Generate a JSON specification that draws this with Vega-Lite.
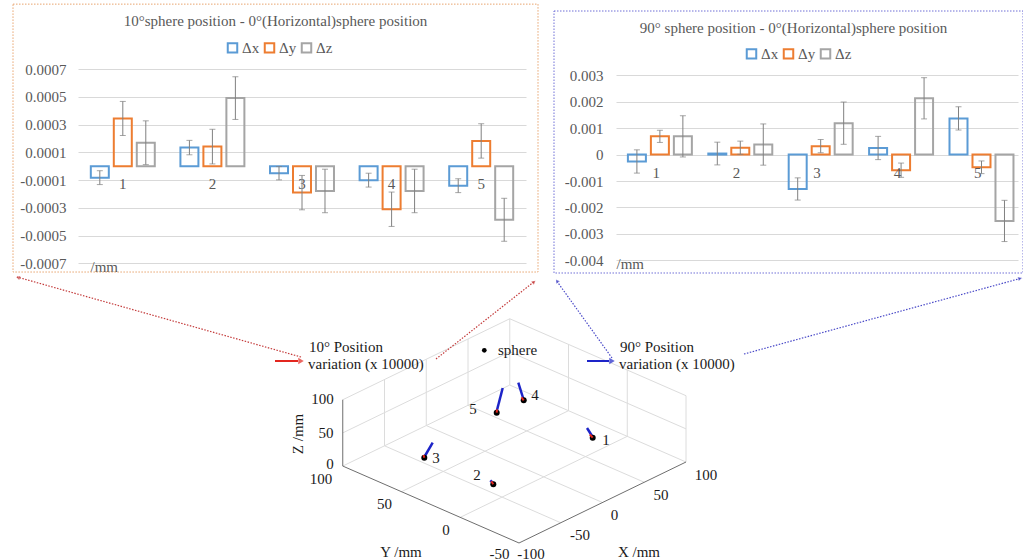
{
 "$schema": "https://vega.github.io/schema/vega-lite/v6.json",
 "padding": {"left": 12, "top": 3, "right": 0, "bottom": 0},
 "background": "white",
 "spacing": 0,
 "config": {"view": {"stroke": null}, "font": "Liberation Serif"},
 "datasets": {
  "d10": [
   {"g":"1","s":"Δx","v":-0.000082,"e":0.00005},
   {"g":"1","s":"Δy","v":0.000345,"e":0.000123},
   {"g":"1","s":"Δz","v":0.00017,"e":0.000158},
   {"g":"2","s":"Δx","v":0.000135,"e":0.000052},
   {"g":"2","s":"Δy","v":0.000142,"e":0.000125},
   {"g":"2","s":"Δz","v":0.000492,"e":0.000154},
   {"g":"3","s":"Δx","v":-0.00005,"e":0.000048},
   {"g":"3","s":"Δy","v":-0.00019,"e":0.000124},
   {"g":"3","s":"Δz","v":-0.000178,"e":0.000157},
   {"g":"4","s":"Δx","v":-0.0001,"e":0.00005},
   {"g":"4","s":"Δy","v":-0.00031,"e":0.000124},
   {"g":"4","s":"Δz","v":-0.000178,"e":0.000157},
   {"g":"5","s":"Δx","v":-0.00014,"e":0.00005},
   {"g":"5","s":"Δy","v":0.000183,"e":0.000124},
   {"g":"5","s":"Δz","v":-0.000386,"e":0.000155}
  ],
  "d90": [
   {"g":"1","s":"Δx","v":-0.00026,"e":0.00044},
   {"g":"1","s":"Δy","v":0.00069,"e":0.00023},
   {"g":"1","s":"Δz","v":0.00069,"e":0.00078},
   {"g":"2","s":"Δx","v":0.00004,"e":0.00043},
   {"g":"2","s":"Δy","v":0.00026,"e":0.00025},
   {"g":"2","s":"Δz","v":0.00038,"e":0.00078},
   {"g":"3","s":"Δx","v":-0.0013,"e":0.00042},
   {"g":"3","s":"Δy","v":0.00032,"e":0.00025},
   {"g":"3","s":"Δz","v":0.00119,"e":0.0008},
   {"g":"4","s":"Δx","v":0.00025,"e":0.00044},
   {"g":"4","s":"Δy","v":-0.00059,"e":0.00027},
   {"g":"4","s":"Δz","v":0.00213,"e":0.00078},
   {"g":"5","s":"Δx","v":0.00137,"e":0.00044},
   {"g":"5","s":"Δy","v":-0.00048,"e":0.00024},
   {"g":"5","s":"Δz","v":-0.00251,"e":0.00078}
  ],
  "cats": [{"g":"1"},{"g":"2"},{"g":"3"},{"g":"4"},{"g":"5"}]
 },
 "vconcat": [
  {
   "spacing": 14,
   "resolve": {"scale": {"color": "independent"}, "legend": {"color": "independent"}},
   "hconcat": [
    {
     "width": 525, "height": 269,
     "title": {"text": "10°sphere position - 0°(Horizontal)sphere position", "font": "Liberation Serif", "fontSize": 15, "fontWeight": "normal", "color": "#595959", "anchor": "middle", "frame": "group", "offset": -32, "baseline": "middle"},
     "layer": [
      {"data": {"values": [{}]}, "mark": {"type": "rect", "filled": false, "stroke": "#e8a46e", "strokeWidth": 1, "strokeDash": [1.5, 1.5]},
       "encoding": {"y": {"datum": 0.00117, "type": "quantitative", "title": "/mm"}, "y2": {"datum": -0.000763}}},
      {"data": {"name": "d10"}, "mark": {"type": "bar", "filled": false, "strokeWidth": 2},
       "encoding": {
        "x": {"field": "g", "type": "nominal", "scale": {"range": [65, 513], "paddingInner": 0.286, "paddingOuter": 0.143}, "axis": null},
        "xOffset": {"field": "s", "type": "nominal", "scale": {"paddingInner": 0.217, "paddingOuter": 0}},
        "y": {"field": "v", "type": "quantitative", "title": "/mm", "scale": {"domain": [-0.00077, 0.001171], "nice": false, "zero": false},
         "axis": {"values": [-0.0007, -0.0005, -0.0003, -0.0001, 0.0001, 0.0003, 0.0005, 0.0007], "tickCount": 20, "labelOverlap": false, "labelExpr": "replace(format(datum.value, '.4f'), '−', '-')", "offset": -53, "domain": false, "ticks": false, "tickSize": 0, "labelPadding": 0, "labelFont": "Liberation Serif", "labelFontSize": 15, "labelColor": "#595959", "grid": true, "gridColor": "#d9d9d9", "gridWidth": 1, "title": "/mm", "titleAngle": 0, "titleX": 24, "titleY": 262, "titleAlign": "left", "titleBaseline": "middle", "titleFont": "Liberation Serif", "titleFontSize": 15, "titleFontWeight": "normal", "titleColor": "#595959"}},
        "color": {"field": "s", "type": "nominal", "scale": {"domain": ["Δx", "Δy", "Δz"], "range": ["#5B9BD5", "#ED7D31", "#A5A5A5"]},
         "legend": {"orient": "none", "legendX": 212, "legendY": 36, "direction": "horizontal", "title": null, "symbolType": "square", "symbolSize": 90, "symbolStrokeWidth": 2, "labelFont": "Liberation Serif", "labelFontSize": 15, "labelColor": "#595959", "columnPadding": 0, "labelOffset": 2, "padding": 0}}
       }},
      {"data": {"name": "cats"}, "mark": {"type": "text", "dy": 18, "fontSize": 15, "color": "#595959", "font": "Liberation Serif"},
       "encoding": {"x": {"field": "g", "type": "nominal"}, "y": {"datum": 0, "type": "quantitative", "title": "/mm"}, "text": {"field": "g"}}},
      {"data": {"name": "d10"}, "mark": {"type": "errorbar", "ticks": {"size": 6, "thickness": 1, "color": "#808080"}, "rule": {"color": "#808080", "strokeWidth": 1}},
       "encoding": {"x": {"field": "g", "type": "nominal"}, "xOffset": {"field": "s", "type": "nominal"}, "y": {"field": "v", "type": "quantitative", "title": "/mm"}, "yError": {"field": "e"}}}
     ]
    },
    {
     "width": 469, "height": 269,
     "title": {"text": "90° sphere position - 0°(Horizontal)sphere position", "font": "Liberation Serif", "fontSize": 15, "fontWeight": "normal", "color": "#595959", "anchor": "middle", "frame": "group", "offset": -39, "baseline": "middle", "dx": 5},
     "layer": [
      {"data": {"values": [{}]}, "mark": {"type": "rect", "filled": false, "stroke": "#6f6fd6", "strokeWidth": 1, "strokeDash": [1.5, 1.5]},
       "encoding": {"y": {"datum": 0.005433, "type": "quantitative", "title": "/mm"}, "y2": {"datum": -0.00448}}},
      {"data": {"name": "d90"}, "mark": {"type": "bar", "filled": false, "strokeWidth": 2},
       "encoding": {
        "x": {"field": "g", "type": "nominal", "scale": {"range": [62, 464], "paddingInner": 0.296, "paddingOuter": 0.148}, "axis": null},
        "xOffset": {"field": "s", "type": "nominal", "scale": {"paddingInner": 0.21, "paddingOuter": 0}},
        "y": {"field": "v", "type": "quantitative", "title": "/mm", "scale": {"domain": [-0.00448, 0.005698], "nice": false, "zero": false},
         "axis": {"values": [-0.004, -0.003, -0.002, -0.001, 0, 0.001, 0.002, 0.003], "tickCount": 20, "labelOverlap": false, "labelExpr": "datum.value == 0 ? '0' : replace(format(datum.value, '.3f'), '−', '-')", "offset": -49, "domain": false, "ticks": false, "tickSize": 0, "labelPadding": 0, "labelFont": "Liberation Serif", "labelFontSize": 15, "labelColor": "#595959", "grid": true, "gridColor": "#d9d9d9", "gridWidth": 1, "title": "/mm", "titleAngle": 0, "titleX": 13, "titleY": 259, "titleAlign": "left", "titleBaseline": "middle", "titleFont": "Liberation Serif", "titleFontSize": 15, "titleFontWeight": "normal", "titleColor": "#595959"}},
        "color": {"field": "s", "type": "nominal", "scale": {"domain": ["Δx", "Δy", "Δz"], "range": ["#5B9BD5", "#ED7D31", "#A5A5A5"]},
         "legend": {"orient": "none", "legendX": 190, "legendY": 42, "direction": "horizontal", "title": null, "symbolType": "square", "symbolSize": 90, "symbolStrokeWidth": 2, "labelFont": "Liberation Serif", "labelFontSize": 15, "labelColor": "#595959", "columnPadding": 0, "labelOffset": 2, "padding": 0}}
       }},
      {"data": {"name": "cats"}, "mark": {"type": "text", "dy": 18, "fontSize": 15, "color": "#595959", "font": "Liberation Serif"},
       "encoding": {"x": {"field": "g", "type": "nominal"}, "y": {"datum": 0, "type": "quantitative", "title": "/mm"}, "text": {"field": "g"}}},
      {"data": {"name": "d90"}, "mark": {"type": "errorbar", "ticks": {"size": 6, "thickness": 1, "color": "#808080"}, "rule": {"color": "#808080", "strokeWidth": 1}},
       "encoding": {"x": {"field": "g", "type": "nominal"}, "xOffset": {"field": "s", "type": "nominal"}, "y": {"field": "v", "type": "quantitative", "title": "/mm"}, "yError": {"field": "e"}}}
     ]
    }
   ]
  },
  {
   "width": 1008, "height": 288,
   "encoding": {
    "x": {"field": "u", "type": "quantitative", "scale": {"domain": [12, 1020], "nice": false, "zero": false}, "axis": null},
    "y": {"field": "v", "type": "quantitative", "scale": {"domain": [272, 560], "reverse": true, "nice": false, "zero": false}, "axis": null}
   },
   "layer": [
    {"data": {"values": [
      {"u":559.75,"v":520.75,"u2":383.5,"v2":443.8},
      {"u":601.5,"v":500.5,"u2":425.25,"v2":423.55},
      {"u":643.25,"v":480.25,"u2":467,"v2":403.3},
      {"u":685,"v":460,"u2":508.75,"v2":383.05},
      {"u":459.25,"v":515.35,"u2":626.25,"v2":434.35},
      {"u":400.5,"v":489.7,"u2":567.5,"v2":408.7},
      {"u":341.75,"v":464.05,"u2":508.75,"v2":383.05},
      {"u":383.5,"v":443.8,"u2":383.5,"v2":377.5},
      {"u":425.25,"v":423.55,"u2":425.25,"v2":357.25},
      {"u":467,"v":403.3,"u2":467,"v2":337},
      {"u":508.75,"v":383.05,"u2":508.75,"v2":316.75},
      {"u":341.75,"v":430.9,"u2":508.75,"v2":349.9},
      {"u":341.75,"v":397.75,"u2":508.75,"v2":316.75},
      {"u":685,"v":460,"u2":685,"v2":393.7},
      {"u":626.25,"v":434.35,"u2":626.25,"v2":368.05},
      {"u":567.5,"v":408.7,"u2":567.5,"v2":342.4},
      {"u":685,"v":426.85,"u2":508.75,"v2":349.9},
      {"u":685,"v":393.7,"u2":508.75,"v2":316.75}
     ]},
     "mark": {"type": "rule", "color": "#dcdcdc", "strokeWidth": 1},
     "encoding": {"x2": {"field": "u2"}, "y2": {"field": "v2"}}},
    {"data": {"values": [
      {"u":518,"v":541,"u2":685,"v2":460},
      {"u":341.75,"v":464.05,"u2":518,"v2":541},
      {"u":341.75,"v":464.05,"u2":341.75,"v2":397.75}
     ]},
     "mark": {"type": "rule", "color": "#6e6e6e", "strokeWidth": 1},
     "encoding": {"x2": {"field": "u2"}, "y2": {"field": "v2"}}},
    {"data": {"values": [
      {"u":300,"v":355,"u2":16,"v2":275},
      {"u":435,"v":357,"u2":534,"v2":279}
     ]},
     "mark": {"type": "rule", "color": "#c43c3c", "strokeWidth": 1.2, "strokeDash": [1.5, 1.5]},
     "encoding": {"x2": {"field": "u2"}, "y2": {"field": "v2"}}},
    {"data": {"values": [
      {"u":611,"v":356,"u2":555,"v2":278},
      {"u":743,"v":352,"u2":1021,"v2":276}
     ]},
     "mark": {"type": "rule", "color": "#4a4ac8", "strokeWidth": 1.2, "strokeDash": [1.5, 1.5]},
     "encoding": {"x2": {"field": "u2"}, "y2": {"field": "v2"}}},
    {"data": {"values": [{"u":274,"v":359,"u2":297,"v2":359}]},
     "mark": {"type": "rule", "color": "#e3261f", "strokeWidth": 2},
     "encoding": {"x2": {"field": "u2"}, "y2": {"field": "v2"}}},
    {"data": {"values": [{"u":586,"v":359,"u2":608,"v2":359}]},
     "mark": {"type": "rule", "color": "#1d24c8", "strokeWidth": 2},
     "encoding": {"x2": {"field": "u2"}, "y2": {"field": "v2"}}},
    {"data": {"values": [{"u":300,"v":359}]}, "mark": {"type": "point", "shape": "triangle-right", "filled": true, "size": 40, "color": "#e3261f"}, "encoding": {}},
    {"data": {"values": [{"u":611,"v":359}]}, "mark": {"type": "point", "shape": "triangle-right", "filled": true, "size": 40, "color": "#1d24c8"}, "encoding": {}},
    {"data": {"values": [{"u":17,"v":275.5}]}, "mark": {"type": "point", "shape": "triangle-up", "angle": 286, "filled": true, "size": 18, "color": "#c43c3c"}, "encoding": {}},
    {"data": {"values": [{"u":533,"v":280}]}, "mark": {"type": "point", "shape": "triangle-up", "angle": 52, "filled": true, "size": 18, "color": "#c43c3c"}, "encoding": {}},
    {"data": {"values": [{"u":556,"v":279}]}, "mark": {"type": "point", "shape": "triangle-up", "angle": 324, "filled": true, "size": 18, "color": "#4a4ac8"}, "encoding": {}},
    {"data": {"values": [{"u":1019,"v":276.5}]}, "mark": {"type": "point", "shape": "triangle-up", "angle": 75, "filled": true, "size": 18, "color": "#4a4ac8"}, "encoding": {}},
    {"data": {"values": [
      {"u":592,"v":435.5,"u2":586,"v2":426},
      {"u":493,"v":482,"u2":489.3,"v2":478.3},
      {"u":423,"v":455.5,"u2":431.7,"v2":440.7},
      {"u":522.7,"v":398,"u2":517.3,"v2":380.7},
      {"u":495.5,"v":410,"u2":501.7,"v2":386}
     ]},
     "mark": {"type": "rule", "color": "#1d24c8", "strokeWidth": 2.5},
     "encoding": {"x2": {"field": "u2"}, "y2": {"field": "v2"}}},
    {"data": {"values": [
      {"u":591.7,"v":435.7},{"u":492.3,"v":482.3},{"u":423.3,"v":455.7},{"u":522.7,"v":398.3},{"u":495.7,"v":410.7}
     ]},
     "mark": {"type": "point", "shape": "circle", "filled": true, "size": 36, "color": "#000000", "opacity": 1}, "encoding": {}},
    {"data": {"values": [
      {"u":591.7,"v":435.7,"u2":588.8,"v2":432.5},
      {"u":492.3,"v":482.3,"u2":490.3,"v2":479.3},
      {"u":423.3,"v":455.7,"u2":422.5,"v2":453},
      {"u":522.7,"v":398.3,"u2":520.5,"v2":395.3},
      {"u":495.7,"v":410.7,"u2":496,"v2":407.3}
     ]},
     "mark": {"type": "rule", "color": "#e3261f", "strokeWidth": 2},
     "encoding": {"x2": {"field": "u2"}, "y2": {"field": "v2"}}},
    {"data": {"values": [{"u":483.3,"v":348.3}]},
     "mark": {"type": "point", "shape": "circle", "filled": true, "size": 22, "color": "#000000", "opacity": 1}, "encoding": {}},
    {"data": {"values": [
      {"u":321.5,"v":397,"t":"100"},{"u":325,"v":431,"t":"50"},{"u":329,"v":462,"t":"0"},
      {"u":320,"v":477,"t":"100"},{"u":383.5,"v":502,"t":"50"},{"u":445,"v":528,"t":"0"},{"u":498.5,"v":551.5,"t":"-50"},
      {"u":530,"v":551.5,"t":"-100"},{"u":579,"v":533,"t":"-50"},{"u":613.5,"v":513,"t":"0"},{"u":660,"v":493,"t":"50"},{"u":705,"v":473,"t":"100"},
      {"u":400,"v":550,"t":"Y /mm"},{"u":638,"v":550,"t":"X /mm"},
      {"u":605,"v":438,"t":"1"},{"u":476,"v":473,"t":"2"},{"u":435,"v":456,"t":"3"},{"u":534,"v":393,"t":"4"},{"u":472,"v":407,"t":"5"}
     ]},
     "mark": {"type": "text", "font": "Liberation Serif", "fontSize": 15, "color": "#1a1a1a", "align": "center", "baseline": "middle"},
     "encoding": {"text": {"field": "t"}}},
    {"data": {"values": [
      {"u":308,"v":345,"t":"10°  Position"},{"u":307,"v":362,"t":"variation (x 10000)"},
      {"u":619,"v":345,"t":"90°  Position"},{"u":618,"v":362,"t":"variation (x 10000)"},
      {"u":497,"v":348,"t":"sphere"}
     ]},
     "mark": {"type": "text", "font": "Liberation Serif", "fontSize": 15, "color": "#1a1a1a", "align": "left", "baseline": "middle"},
     "encoding": {"text": {"field": "t"}}},
    {"data": {"values": [{"u":297,"v":432,"t":"Z /mm"}]},
     "mark": {"type": "text", "font": "Liberation Serif", "fontSize": 15, "color": "#1a1a1a", "align": "center", "baseline": "middle", "angle": 270},
     "encoding": {"text": {"field": "t"}}}
   ]
  }
 ]
}
